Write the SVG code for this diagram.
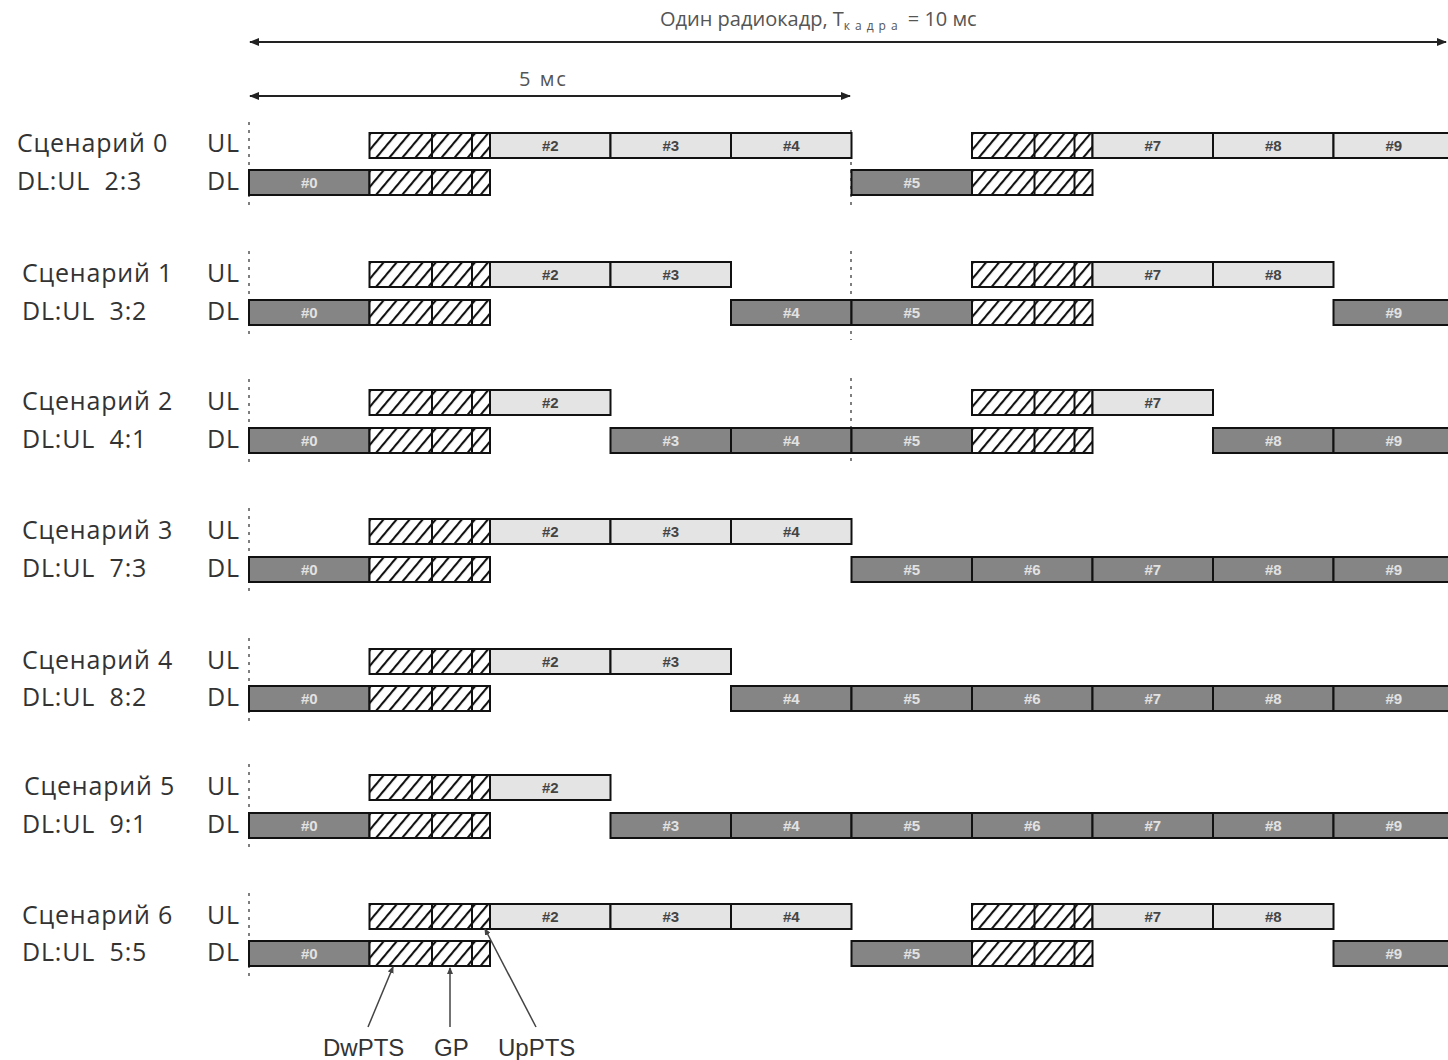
<svg xmlns="http://www.w3.org/2000/svg" xmlns:xlink="http://www.w3.org/1999/xlink" width="1448" height="1060" viewBox="0 0 1448 1060">
<style>
.lbl{font-family:"Open Sans","Liberation Sans",sans-serif;font-size:25px;letter-spacing:0.8px;fill:#333}
.ttl{font-family:"Open Sans","Liberation Sans",sans-serif;font-size:20px;fill:#555}
.sub{font-family:"Open Sans","Liberation Sans",sans-serif;font-size:12px;letter-spacing:5px;fill:#555}
.ptr{font-family:"Liberation Sans",Arial,sans-serif;font-size:24px;fill:#333}
.ul{fill:#e4e4e4;stroke:#111;stroke-width:2}
.dl{fill:#858585;stroke:#111;stroke-width:2}
.hb{fill:url(#hatch);stroke:#111;stroke-width:2}
.tu{font-family:"Liberation Sans",Arial,sans-serif;font-size:15px;font-weight:bold;fill:#444;text-anchor:middle}
.td{font-family:"Liberation Sans",Arial,sans-serif;font-size:15px;font-weight:bold;fill:#e2e2e2;text-anchor:middle}
.dash{stroke:#555;stroke-width:1.5;stroke-dasharray:3 5;fill:none}
.arr{stroke:#222;stroke-width:1.8;fill:none}
.pl{stroke:#444;stroke-width:1.5;fill:none}
</style>
<defs>
<pattern id="hatch" patternUnits="userSpaceOnUse" width="10" height="10" patternTransform="rotate(40)">
<rect width="10" height="10" fill="#fff"/>
<line x1="1" y1="0" x2="1" y2="10" stroke="#111" stroke-width="2.2"/>
</pattern>
<marker id="ah" markerWidth="10" markerHeight="8" refX="9" refY="4" orient="auto-start-reverse" markerUnits="userSpaceOnUse">
<path d="M0,0 L10,4 L0,8 Z" fill="#222"/>
</marker>
<marker id="sh" markerWidth="7" markerHeight="6" refX="6" refY="3" orient="auto" markerUnits="userSpaceOnUse">
<path d="M0,0 L7,3 L0,6 Z" fill="#444"/>
</marker>
<g id="sp">
<rect class="hb" x="0" y="0" width="120.5" height="25"/>
<line x1="62.5" y1="0" x2="62.5" y2="25" stroke="#111" stroke-width="2"/>
<line x1="102.5" y1="0" x2="102.5" y2="25" stroke="#111" stroke-width="2"/>
</g>
</defs>
<rect width="1448" height="1060" fill="#fff"/>

<g id="top-dimension">
<text class="ttl" x="660" y="26">Один радиокадр, T<tspan class="sub" dy="4">кадра</tspan><tspan dy="-4"> = 10 мс</tspan></text>
<line class="arr" x1="250" y1="42" x2="1446" y2="42" marker-start="url(#ah)" marker-end="url(#ah)"/>
<text class="ttl" x="519" y="86" letter-spacing="2">5 мс</text>
<line class="arr" x1="250" y1="96" x2="850" y2="96" marker-start="url(#ah)" marker-end="url(#ah)"/>
</g>

<g id="guides">
<line class="dash" x1="249" y1="122" x2="249" y2="207"/>
<line class="dash" x1="851" y1="130" x2="851" y2="207"/>
<line class="dash" x1="249" y1="251" x2="249" y2="337"/>
<line class="dash" x1="851" y1="251" x2="851" y2="340"/>
<line class="dash" x1="249" y1="379" x2="249" y2="465"/>
<line class="dash" x1="851" y1="378" x2="851" y2="465"/>
<line class="dash" x1="249" y1="508" x2="249" y2="594"/>
<line class="dash" x1="249" y1="638" x2="249" y2="723"/>
<line class="dash" x1="249" y1="764" x2="249" y2="850"/>
<line class="dash" x1="249" y1="893" x2="249" y2="978"/>
</g>

<g id="scenario0">
<text class="lbl" x="17" y="152">Сценарий 0</text>
<text class="lbl" x="17" y="190" xml:space="preserve">DL:UL  2:3</text>
<text class="lbl" x="207" y="152">UL</text>
<text class="lbl" x="207" y="190">DL</text>
<use xlink:href="#sp" x="369.5" y="133"/>
<rect class="ul" x="490" y="133" width="120.5" height="25"/><text class="tu" x="550.25" y="151">#2</text>
<rect class="ul" x="610.5" y="133" width="120.5" height="25"/><text class="tu" x="670.75" y="151">#3</text>
<rect class="ul" x="731" y="133" width="120.5" height="25"/><text class="tu" x="791.25" y="151">#4</text>
<use xlink:href="#sp" x="972" y="133"/>
<rect class="ul" x="1092.5" y="133" width="120.5" height="25"/><text class="tu" x="1152.75" y="151">#7</text>
<rect class="ul" x="1213" y="133" width="120.5" height="25"/><text class="tu" x="1273.25" y="151">#8</text>
<rect class="ul" x="1333.5" y="133" width="120.5" height="25"/><text class="tu" x="1393.75" y="151">#9</text>
<rect class="dl" x="249" y="170" width="120.5" height="25"/><text class="td" x="309.25" y="188">#0</text>
<use xlink:href="#sp" x="369.5" y="170"/>
<rect class="dl" x="851.5" y="170" width="120.5" height="25"/><text class="td" x="911.75" y="188">#5</text>
<use xlink:href="#sp" x="972" y="170"/>
</g>

<g id="scenario1">
<text class="lbl" x="22" y="282">Сценарий 1</text>
<text class="lbl" x="22" y="320" xml:space="preserve">DL:UL  3:2</text>
<text class="lbl" x="207" y="282">UL</text>
<text class="lbl" x="207" y="320">DL</text>
<use xlink:href="#sp" x="369.5" y="262"/>
<rect class="ul" x="490" y="262" width="120.5" height="25"/><text class="tu" x="550.25" y="280">#2</text>
<rect class="ul" x="610.5" y="262" width="120.5" height="25"/><text class="tu" x="670.75" y="280">#3</text>
<use xlink:href="#sp" x="972" y="262"/>
<rect class="ul" x="1092.5" y="262" width="120.5" height="25"/><text class="tu" x="1152.75" y="280">#7</text>
<rect class="ul" x="1213" y="262" width="120.5" height="25"/><text class="tu" x="1273.25" y="280">#8</text>
<rect class="dl" x="249" y="300" width="120.5" height="25"/><text class="td" x="309.25" y="318">#0</text>
<use xlink:href="#sp" x="369.5" y="300"/>
<rect class="dl" x="731" y="300" width="120.5" height="25"/><text class="td" x="791.25" y="318">#4</text>
<rect class="dl" x="851.5" y="300" width="120.5" height="25"/><text class="td" x="911.75" y="318">#5</text>
<use xlink:href="#sp" x="972" y="300"/>
<rect class="dl" x="1333.5" y="300" width="120.5" height="25"/><text class="td" x="1393.75" y="318">#9</text>
</g>

<g id="scenario2">
<text class="lbl" x="22" y="410">Сценарий 2</text>
<text class="lbl" x="22" y="448" xml:space="preserve">DL:UL  4:1</text>
<text class="lbl" x="207" y="410">UL</text>
<text class="lbl" x="207" y="448">DL</text>
<use xlink:href="#sp" x="369.5" y="390"/>
<rect class="ul" x="490" y="390" width="120.5" height="25"/><text class="tu" x="550.25" y="408">#2</text>
<use xlink:href="#sp" x="972" y="390"/>
<rect class="ul" x="1092.5" y="390" width="120.5" height="25"/><text class="tu" x="1152.75" y="408">#7</text>
<rect class="dl" x="249" y="428" width="120.5" height="25"/><text class="td" x="309.25" y="446">#0</text>
<use xlink:href="#sp" x="369.5" y="428"/>
<rect class="dl" x="610.5" y="428" width="120.5" height="25"/><text class="td" x="670.75" y="446">#3</text>
<rect class="dl" x="731" y="428" width="120.5" height="25"/><text class="td" x="791.25" y="446">#4</text>
<rect class="dl" x="851.5" y="428" width="120.5" height="25"/><text class="td" x="911.75" y="446">#5</text>
<use xlink:href="#sp" x="972" y="428"/>
<rect class="dl" x="1213" y="428" width="120.5" height="25"/><text class="td" x="1273.25" y="446">#8</text>
<rect class="dl" x="1333.5" y="428" width="120.5" height="25"/><text class="td" x="1393.75" y="446">#9</text>
</g>

<g id="scenario3">
<text class="lbl" x="22" y="539">Сценарий 3</text>
<text class="lbl" x="22" y="577" xml:space="preserve">DL:UL  7:3</text>
<text class="lbl" x="207" y="539">UL</text>
<text class="lbl" x="207" y="577">DL</text>
<use xlink:href="#sp" x="369.5" y="519"/>
<rect class="ul" x="490" y="519" width="120.5" height="25"/><text class="tu" x="550.25" y="537">#2</text>
<rect class="ul" x="610.5" y="519" width="120.5" height="25"/><text class="tu" x="670.75" y="537">#3</text>
<rect class="ul" x="731" y="519" width="120.5" height="25"/><text class="tu" x="791.25" y="537">#4</text>
<rect class="dl" x="249" y="557" width="120.5" height="25"/><text class="td" x="309.25" y="575">#0</text>
<use xlink:href="#sp" x="369.5" y="557"/>
<rect class="dl" x="851.5" y="557" width="120.5" height="25"/><text class="td" x="911.75" y="575">#5</text>
<rect class="dl" x="972" y="557" width="120.5" height="25"/><text class="td" x="1032.25" y="575">#6</text>
<rect class="dl" x="1092.5" y="557" width="120.5" height="25"/><text class="td" x="1152.75" y="575">#7</text>
<rect class="dl" x="1213" y="557" width="120.5" height="25"/><text class="td" x="1273.25" y="575">#8</text>
<rect class="dl" x="1333.5" y="557" width="120.5" height="25"/><text class="td" x="1393.75" y="575">#9</text>
</g>

<g id="scenario4">
<text class="lbl" x="22" y="669">Сценарий 4</text>
<text class="lbl" x="22" y="706" xml:space="preserve">DL:UL  8:2</text>
<text class="lbl" x="207" y="669">UL</text>
<text class="lbl" x="207" y="706">DL</text>
<use xlink:href="#sp" x="369.5" y="649"/>
<rect class="ul" x="490" y="649" width="120.5" height="25"/><text class="tu" x="550.25" y="667">#2</text>
<rect class="ul" x="610.5" y="649" width="120.5" height="25"/><text class="tu" x="670.75" y="667">#3</text>
<rect class="dl" x="249" y="686" width="120.5" height="25"/><text class="td" x="309.25" y="704">#0</text>
<use xlink:href="#sp" x="369.5" y="686"/>
<rect class="dl" x="731" y="686" width="120.5" height="25"/><text class="td" x="791.25" y="704">#4</text>
<rect class="dl" x="851.5" y="686" width="120.5" height="25"/><text class="td" x="911.75" y="704">#5</text>
<rect class="dl" x="972" y="686" width="120.5" height="25"/><text class="td" x="1032.25" y="704">#6</text>
<rect class="dl" x="1092.5" y="686" width="120.5" height="25"/><text class="td" x="1152.75" y="704">#7</text>
<rect class="dl" x="1213" y="686" width="120.5" height="25"/><text class="td" x="1273.25" y="704">#8</text>
<rect class="dl" x="1333.5" y="686" width="120.5" height="25"/><text class="td" x="1393.75" y="704">#9</text>
</g>

<g id="scenario5">
<text class="lbl" x="24" y="795">Сценарий 5</text>
<text class="lbl" x="22" y="833" xml:space="preserve">DL:UL  9:1</text>
<text class="lbl" x="207" y="795">UL</text>
<text class="lbl" x="207" y="833">DL</text>
<use xlink:href="#sp" x="369.5" y="775"/>
<rect class="ul" x="490" y="775" width="120.5" height="25"/><text class="tu" x="550.25" y="793">#2</text>
<rect class="dl" x="249" y="813" width="120.5" height="25"/><text class="td" x="309.25" y="831">#0</text>
<use xlink:href="#sp" x="369.5" y="813"/>
<rect class="dl" x="610.5" y="813" width="120.5" height="25"/><text class="td" x="670.75" y="831">#3</text>
<rect class="dl" x="731" y="813" width="120.5" height="25"/><text class="td" x="791.25" y="831">#4</text>
<rect class="dl" x="851.5" y="813" width="120.5" height="25"/><text class="td" x="911.75" y="831">#5</text>
<rect class="dl" x="972" y="813" width="120.5" height="25"/><text class="td" x="1032.25" y="831">#6</text>
<rect class="dl" x="1092.5" y="813" width="120.5" height="25"/><text class="td" x="1152.75" y="831">#7</text>
<rect class="dl" x="1213" y="813" width="120.5" height="25"/><text class="td" x="1273.25" y="831">#8</text>
<rect class="dl" x="1333.5" y="813" width="120.5" height="25"/><text class="td" x="1393.75" y="831">#9</text>
</g>

<g id="scenario6">
<text class="lbl" x="22" y="924">Сценарий 6</text>
<text class="lbl" x="22" y="961" xml:space="preserve">DL:UL  5:5</text>
<text class="lbl" x="207" y="924">UL</text>
<text class="lbl" x="207" y="961">DL</text>
<use xlink:href="#sp" x="369.5" y="904"/>
<rect class="ul" x="490" y="904" width="120.5" height="25"/><text class="tu" x="550.25" y="922">#2</text>
<rect class="ul" x="610.5" y="904" width="120.5" height="25"/><text class="tu" x="670.75" y="922">#3</text>
<rect class="ul" x="731" y="904" width="120.5" height="25"/><text class="tu" x="791.25" y="922">#4</text>
<use xlink:href="#sp" x="972" y="904"/>
<rect class="ul" x="1092.5" y="904" width="120.5" height="25"/><text class="tu" x="1152.75" y="922">#7</text>
<rect class="ul" x="1213" y="904" width="120.5" height="25"/><text class="tu" x="1273.25" y="922">#8</text>
<rect class="dl" x="249" y="941" width="120.5" height="25"/><text class="td" x="309.25" y="959">#0</text>
<use xlink:href="#sp" x="369.5" y="941"/>
<rect class="dl" x="851.5" y="941" width="120.5" height="25"/><text class="td" x="911.75" y="959">#5</text>
<use xlink:href="#sp" x="972" y="941"/>
<rect class="dl" x="1333.5" y="941" width="120.5" height="25"/><text class="td" x="1393.75" y="959">#9</text>
</g>

<g id="connectors">
<line class="pl" x1="368" y1="1027" x2="393" y2="967" marker-end="url(#sh)"/>
<line class="pl" x1="450" y1="1027" x2="450" y2="968" marker-end="url(#sh)"/>
<line class="pl" x1="536" y1="1027" x2="485" y2="929" marker-end="url(#sh)"/>
</g>
<g id="pointer-labels">
<text class="ptr" x="323" y="1056">DwPTS</text>
<text class="ptr" x="434" y="1056">GP</text>
<text class="ptr" x="498" y="1056">UpPTS</text>
</g>
</svg>
